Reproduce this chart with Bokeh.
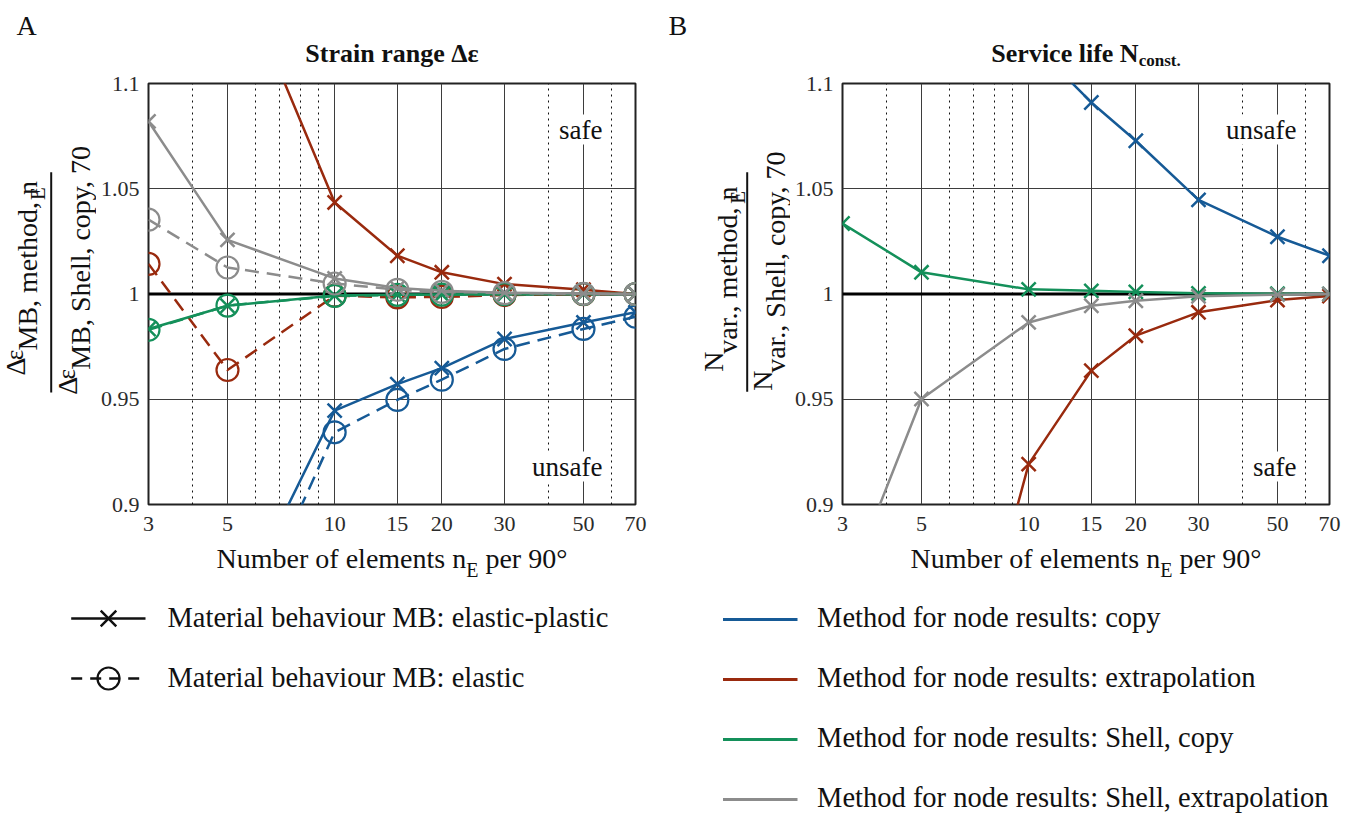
import math

from bokeh.plotting import figure
from bokeh.models import Range1d, FixedTicker, Label, Span
from bokeh.layouts import column, row
from bokeh.core.properties import value
from bokeh.embed import file_html
from bokeh.resources import INLINE

# ---------------------------------------------------------------- data
n_elements = [3, 5, 10, 15, 20, 30, 50, 70]
x_tick_labels = ["3", "5", "10", "15", "20", "30", "50", "70"]
x_minor_ticks = [4, 6, 7, 8, 9, 40, 60]
y_ticks = [0.9, 0.95, 1.0, 1.05, 1.1]
y_tick_labels = ["0.9", "0.95", "1", "1.05", "1.1"]

# strain range ratio, elastic-plastic (ep) and elastic (el) material behaviour
strain_copy_ep = [0.70, 0.841, 0.9446, 0.9572, 0.9648, 0.9786, 0.9865, 0.9913]
strain_copy_el = [0.68, 0.822, 0.9343, 0.9497, 0.9593, 0.9739, 0.9834, 0.9892]
strain_extrap_ep = [1.30, 1.165, 1.0435, 1.0182, 1.0103, 1.0047, 1.0020, 1.0000]
strain_extrap_el = [1.0143, 0.9639, 0.9992, 0.9984, 0.9986, 0.9995, 0.9999, 1.0000]
strain_shell_copy_ep = [0.9834, 0.9944, 0.9993, 0.9997, 0.9998, 0.9999, 1.0000, 1.0000]
strain_shell_copy_el = [0.9830, 0.9945, 0.9991, 0.9996, 0.9997, 0.9999, 1.0000, 1.0000]
strain_shell_extrap_ep = [1.0820, 1.0257, 1.0074, 1.0028, 1.0016, 1.0006, 1.0002, 1.0000]
strain_shell_extrap_el = [1.0353, 1.0126, 1.0050, 1.0020, 1.0010, 1.0004, 1.0001, 1.0000]

# service life ratio
life_copy = [1.40, 1.25, 1.121, 1.091, 1.0728, 1.0447, 1.0272, 1.0182]
life_extrap = [0.55, 0.73, 0.9192, 0.9636, 0.9802, 0.9913, 0.9971, 0.9990]
life_shell_copy = [1.0335, 1.0103, 1.0022, 1.0015, 1.0010, 1.0003, 1.0001, 1.0000]
life_shell_extrap = [0.855, 0.9501, 0.9865, 0.9944, 0.9968, 0.9989, 0.9997, 1.0000]

method_labels = [
    "Method for node results: copy",
    "Method for node results: extrapolation",
    "Method for node results: Shell, copy",
    "Method for node results: Shell, extrapolation",
]
behaviour_labels = [
    "Material behaviour MB: elastic-plastic",
    "Material behaviour MB: elastic",
]

# ---------------------------------------------------------------- style
BLUE = "#165a96"
RED = "#992a0e"
GREEN = "#14905a"
GRAY = "#8c8c8c"
METHOD_COLORS = [BLUE, RED, GREEN, GRAY]
INK = "#111111"
FONT = "Liberation Serif"
MID = 0.34          # distance from the text middle down to the baseline, per em

X0, X1 = 3, 70
Y0, Y1 = 0.9, 1.1
FRAME_W, FRAME_H = 487, 421

# page layout (pixels)
TOP_H = 70
PANEL_TOP, PANEL_BOTTOM, AXIS_W = 13, 40, 52
PANEL_H = PANEL_TOP + FRAME_H + PANEL_BOTTOM
BOTTOM_H = 814 - TOP_H - PANEL_H
LEFT_W, RIGHT_W = 660, 699
YLAB_A_W = 148 - AXIS_W
YLAB_B_W = 842 - AXIS_W - LEFT_W
FRAME_TOP = TOP_H + PANEL_TOP
FRAME_A_LEFT = 148
FRAME_B_LEFT = 842

# Times-compatible advance widths (per em) for composing runs of text
REGULAR = {
    " ": .25, ",": .25, ".": .25, ":": .278, "-": .333, "°": .4,
    "0": .5, "1": .5, "2": .5, "3": .5, "4": .5, "5": .5, "6": .5, "7": .5, "8": .5, "9": .5,
    "B": .667, "E": .611, "M": .889, "N": .722, "S": .556,
    "a": .444, "b": .5, "c": .444, "d": .5, "e": .444, "f": .333, "g": .5, "h": .5,
    "i": .278, "l": .278, "m": .778, "n": .5, "o": .5, "p": .5, "r": .333, "s": .389,
    "t": .278, "u": .5, "v": .5, "y": .5, "Δ": .612, "ε": .44,
}
BOLD = {
    " ": .25, ".": .25, "N": .722, "S": .556, "a": .5, "c": .444, "e": .444, "f": .333,
    "g": .5, "i": .278, "l": .278, "n": .556, "o": .5, "r": .444, "s": .389, "t": .333,
    "v": .5, "Δ": .612, "ε": .44,
}


def text_width(text, size, bold=False):
    table = BOLD if bold else REGULAR
    return sum(table.get(ch, .5) for ch in text) * size


def fx(dx):
    """x data value at dx pixels right of the frame's left edge (log axis)."""
    return X0 * (X1 / X0) ** (dx / FRAME_W)


def fy(dy):
    """y data value at dy pixels below the frame's top edge."""
    return Y1 - dy * (Y1 - Y0) / FRAME_H


# ---------------------------------------------------------------- plain sheets for surrounding text
class Sheet:
    """A blank canvas placed at (left, top) on the page, addressed in page pixels."""

    def __init__(self, left, top, width, height):
        self.left, self.top = left, top
        q = figure(width=width, height=height, x_range=Range1d(0, width),
                   y_range=Range1d(height, 0), output_backend="svg", toolbar_location=None,
                   title=None, min_border=0, x_axis_location=None, y_axis_location=None)
        q.grid.visible = False
        q.outline_line_color = None
        q.background_fill_color = "white"
        q.border_fill_color = "white"
        self.fig = q

    def text(self, px, py, text, size, bold=False, align="left", vertical=False, color=INK):
        # (px, py) is the start of the text's baseline on the page
        if vertical:
            x, y, angle = px - self.left - MID * size, py - self.top, math.pi / 2
        else:
            x, y, angle = px - self.left, py - self.top - MID * size, 0.0
        self.fig.text(x=[x], y=[y], text=[text], angle=angle, text_font=value(FONT),
                      text_font_size=value(f"{size}px"),
                      text_font_style="bold" if bold else "normal",
                      text_align=align, text_baseline="middle", text_color=color)

    @staticmethod
    def _split(t, s, b):
        # leading blanks are not drawn, they only advance the pen
        body = t.lstrip(" ")
        return body, text_width(t[:len(t) - len(body)], s, b)

    def runs(self, px_center, py, runs):
        # horizontal runs centred on px_center; a positive shift lowers a run
        total = sum(text_width(t, s, b) for t, s, _, b in runs)
        x = px_center - total / 2
        for t, s, shift, b in runs:
            body, lead = self._split(t, s, b)
            self.text(x + lead, py + shift, body, s, bold=b)
            x += text_width(t, s, b)

    def vruns(self, px, py_center, runs):
        # runs reading upwards; a positive shift lowers a run (moves it right)
        total = sum(text_width(t, s, b) for t, s, _, b in runs)
        y = py_center + total / 2
        for t, s, shift, b in runs:
            body, lead = self._split(t, s, b)
            self.text(px + shift, y - lead, body, s, bold=b, vertical=True)
            y -= text_width(t, s, b)

    def vbar(self, px, py0, py1):
        self.fig.segment(x0=[px - self.left], y0=[py0 - self.top], x1=[px - self.left],
                         y1=[py1 - self.top], line_color=INK, line_width=2)


# ---------------------------------------------------------------- panels
def make_panel(width):
    p = figure(width=width, height=PANEL_H, x_axis_type="log",
               x_range=Range1d(X0, X1), y_range=Range1d(Y0, Y1),
               output_backend="svg", toolbar_location=None, title=None,
               min_border_left=AXIS_W, min_border_right=width - AXIS_W - FRAME_W,
               min_border_top=PANEL_TOP, min_border_bottom=PANEL_BOTTOM)
    p.background_fill_color = "white"
    p.border_fill_color = "white"
    p.outline_line_color = "#222222"
    p.outline_line_width = 2

    for ax in (p.xaxis[0], p.yaxis[0]):
        ax.axis_line_color = None
        ax.major_tick_line_color = None
        ax.minor_tick_line_color = None
        ax.major_tick_out = 0
        ax.major_tick_in = 0
        ax.minor_tick_out = 0
        ax.minor_tick_in = 0
        ax.major_label_text_font = FONT
        ax.major_label_text_font_size = "22px"
        ax.major_label_text_color = "#2b2b2b"
    p.xaxis.major_label_standoff = 12
    p.yaxis.major_label_standoff = 9
    p.xaxis.ticker = FixedTicker(ticks=n_elements, minor_ticks=x_minor_ticks)
    p.xaxis.major_label_overrides = dict(zip(n_elements, x_tick_labels))
    p.yaxis.ticker = FixedTicker(ticks=y_ticks)
    p.yaxis.major_label_overrides = dict(zip(y_ticks, y_tick_labels))

    p.xgrid.grid_line_color = "#3d3d3d"
    p.xgrid.grid_line_width = 1
    p.xgrid.minor_grid_line_color = "#111111"
    p.xgrid.minor_grid_line_dash = "2 4"
    p.xgrid.minor_grid_line_width = 1
    p.ygrid.ticker = FixedTicker(ticks=[0.95, 1.05])
    p.ygrid.grid_line_color = "#3d3d3d"
    p.ygrid.grid_line_width = 1
    p.add_layout(Span(location=1.0, dimension="width", line_color="black",
                      line_width=3, level="underlay"))
    return p


def series(p, y, color, dashed, marker):
    p.line(n_elements, y, line_color=color, line_width=2.5, line_join="round",
           line_dash="14 8" if dashed else "solid")
    if marker == "x":
        p.scatter(n_elements, y, marker="x", size=20, line_color=color, line_width=2.5)
    else:
        p.scatter(n_elements, y, marker="circle", size=22, fill_color=None,
                  line_color=color, line_width=2.2)


def zone_label(p, dy, text):
    p.add_layout(Label(x=fx(FRAME_W - 33), y=fy(dy), text=text, text_font=FONT,
                       text_font_size="27px", text_align="right", text_baseline="middle",
                       text_color=INK, background_fill_color="white"))


# panel A: strain range
pA = make_panel(LEFT_W - YLAB_A_W)
strain_el = [strain_copy_el, strain_extrap_el, strain_shell_copy_el, strain_shell_extrap_el]
strain_ep = [strain_copy_ep, strain_extrap_ep, strain_shell_copy_ep, strain_shell_extrap_ep]
for color, y_el, y_ep in zip(METHOD_COLORS, strain_el, strain_ep):
    series(pA, y_el, color, True, "circle")
    series(pA, y_ep, color, False, "x")
zone_label(pA, 46, "safe")
zone_label(pA, 383, "unsafe")

# panel B: service life
pB = make_panel(RIGHT_W - YLAB_B_W)
for color, y in zip(METHOD_COLORS, [life_copy, life_extrap, life_shell_copy, life_shell_extrap]):
    series(pB, y, color, False, "x")
zone_label(pB, 46, "unsafe")
zone_label(pB, 383, "safe")

# ---------------------------------------------------------------- headings
top = Sheet(0, 0, 1359, TOP_H)
top.text(16, 35, "A", 28)
top.text(668, 35, "B", 28)
top.text(FRAME_A_LEFT + FRAME_W / 2, 62, "Strain range Δε", 26, bold=True, align="center")
top.runs(FRAME_B_LEFT + FRAME_W / 2, 62, [("Service life N", 26, 0, True), ("const.", 17, 4, True)])

# ---------------------------------------------------------------- y-axis fractions
mid_y = FRAME_TOP + FRAME_H / 2
ylab_a = Sheet(0, TOP_H, YLAB_A_W, PANEL_H)
ylab_a.vruns(25, mid_y, [("Δ", 28, 0, False), ("ε", 25, -3, False),
                         ("MB, method, n", 28, 12, False), ("E", 21, 20, False)])
ylab_a.vbar(50.7, 170, 418)
ylab_a.vruns(77, mid_y, [("Δ", 28, 0, False), ("ε", 25, -3, False),
                         ("MB, Shell, copy, 70", 28, 13, False)])

ylab_b = Sheet(LEFT_W, TOP_H, YLAB_B_W, PANEL_H)
ylab_b.vruns(723, mid_y, [("N", 28, 0, False), ("var., method, n", 28, 14, False),
                          ("E", 21, 22, False)])
ylab_b.vbar(746.7, 170, 417)
ylab_b.vruns(772, mid_y, [("N", 28, 0, False), ("var., Shell, copy, 70", 28, 13, False)])

# ---------------------------------------------------------------- x-axis titles and legends
x_title = [("Number of elements n", 28, 0, False), ("E", 20, 8, False), (" per 90°", 28, 0, False)]
bot_top = TOP_H + PANEL_H
LEGEND_SIZE = 28.5

bot_a = Sheet(0, bot_top, LEFT_W, BOTTOM_H)
bot_a.runs(FRAME_A_LEFT + FRAME_W / 2, 568, x_title)
qa = bot_a.fig
key_rows_a = [618, 678]
qa.segment(x0=[70.7], y0=[key_rows_a[0] - bot_top], x1=[145], y1=[key_rows_a[0] - bot_top],
           line_color=INK, line_width=2.5)
qa.scatter([108], [key_rows_a[0] - bot_top], marker="x", size=22, line_color=INK, line_width=2.5)
qa.segment(x0=[70.7], y0=[key_rows_a[1] - bot_top], x1=[145], y1=[key_rows_a[1] - bot_top],
           line_color=INK, line_width=2.5, line_dash="11 8")
qa.scatter([108], [key_rows_a[1] - bot_top], marker="circle", size=22, fill_color=None,
           line_color=INK, line_width=2.2)
for r, t in zip(key_rows_a, behaviour_labels):
    bot_a.text(167, r + 9, t, LEGEND_SIZE)

bot_b = Sheet(LEFT_W, bot_top, RIGHT_W, BOTTOM_H)
bot_b.runs(FRAME_B_LEFT + FRAME_W / 2, 568, x_title)
key_rows_b = [619, 679, 739, 799]
bot_b.fig.segment(x0=[722.5 - LEFT_W] * 4, y0=[r - bot_top for r in key_rows_b],
                  x1=[797 - LEFT_W] * 4, y1=[r - bot_top for r in key_rows_b],
                  line_color=METHOD_COLORS, line_width=3)
for r, t in zip(key_rows_b, method_labels):
    bot_b.text(816.6, r + 8, t, LEGEND_SIZE)

layout = column(top.fig,
                row(ylab_a.fig, pA, ylab_b.fig, pB),
                row(bot_a.fig, bot_b.fig))
open("out.html", "w").write(file_html(layout, INLINE))
